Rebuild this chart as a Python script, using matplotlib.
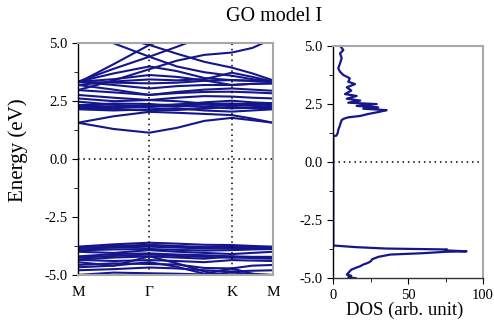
import matplotlib
matplotlib.use("Agg")
import matplotlib.pyplot as plt
from matplotlib.ticker import MultipleLocator
import numpy as np

plt.rcParams['font.family'] = ['Liberation Serif', 'DejaVu Serif']
plt.rcParams['axes.unicode_minus'] = False

# k-path M - Gamma - K - M (hexagonal BZ, relative lengths)
k_pts = [0.0, 0.433, 0.866, 1.2, 1.533, 1.866, 2.116, 2.366]
k_ticks = [0.0, 0.866, 1.866, 2.366]
k_labels = ['M', 'Γ', 'K', 'M']

# conduction bands (eV) sampled on k_pts
cond_bands = [
    [1.57, 1.30, 1.14, 1.35, 1.65, 1.78, 1.68, 1.57],
    [1.57, 1.85, 2.04, 2.00, 1.95, 1.90, 1.75, 1.57],
    [2.15, 2.10, 2.15, 2.20, 2.10, 2.05, 2.10, 2.15],
    [2.20, 2.15, 2.10, 2.12, 2.18, 2.26, 2.20, 2.18],
    [2.26, 2.20, 2.26, 2.30, 2.25, 2.19, 2.22, 2.26],
    [2.33, 2.40, 2.38, 2.30, 2.28, 2.33, 2.30, 2.26],
    [2.30, 2.28, 2.32, 2.36, 2.38, 2.40, 2.36, 2.33],
    [2.48, 2.35, 2.25, 2.35, 2.45, 2.52, 2.45, 2.41],
    [2.62, 2.50, 2.55, 2.50, 2.40, 2.33, 2.40, 2.41],
    [2.77, 2.65, 2.55, 2.65, 2.72, 2.70, 2.65, 2.62],
    [2.98, 2.88, 2.77, 2.85, 2.90, 2.91, 2.88, 2.84],
    [3.20, 3.00, 2.77, 2.90, 3.00, 3.05, 3.00, 2.95],
    [3.34, 3.20, 3.05, 3.15, 3.20, 3.20, 3.25, 3.27],
    [3.34, 3.30, 3.27, 3.30, 3.38, 3.41, 3.38, 3.34],
    [3.20, 3.35, 3.44, 3.40, 3.45, 3.73, 3.55, 3.34],
    [3.34, 3.45, 3.63, 3.55, 3.40, 3.20, 3.25, 3.27],
    [2.98, 3.40, 3.88, 4.25, 4.50, 4.60, 4.80, 5.20],
    [3.34, 3.70, 4.00, 3.80, 3.50, 3.41, 3.38, 3.34],
    [3.34, 3.90, 4.42, 4.85, 5.30, 5.60, 5.70, 5.80],
    [5.60, 5.00, 4.42, 4.00, 3.75, 3.60, 3.45, 3.34],
    [5.80, 5.30, 4.93, 4.55, 4.20, 3.95, 3.70, 3.40],
    [3.30, 4.10, 4.93, 5.40, 5.60, 5.70, 5.70, 5.70],
]

# valence bands (eV) sampled on k_pts
val_bands = [
    [-3.78, -3.68, -3.61, -3.65, -3.70, -3.71, -3.75, -3.78],
    [-3.80, -3.75, -3.70, -3.75, -3.80, -3.78, -3.80, -3.80],
    [-3.84, -3.80, -3.74, -3.78, -3.83, -3.82, -3.82, -3.84],
    [-3.88, -3.82, -3.78, -3.82, -3.86, -3.85, -3.84, -3.83],
    [-3.94, -3.90, -3.88, -3.92, -3.95, -3.93, -3.90, -3.88],
    [-4.00, -4.05, -3.93, -4.00, -4.05, -4.10, -4.05, -4.00],
    [-4.20, -4.10, -4.07, -4.12, -4.15, -4.20, -4.22, -4.22],
    [-4.25, -4.18, -4.12, -4.18, -4.22, -4.26, -4.25, -4.26],
    [-4.33, -4.25, -4.20, -4.25, -4.30, -4.20, -4.28, -4.30],
    [-4.35, -4.40, -4.36, -4.40, -4.45, -4.36, -4.38, -4.40],
    [-4.57, -4.50, -4.53, -4.55, -4.70, -4.72, -4.60, -4.57],
    [-4.67, -4.60, -4.45, -4.65, -4.95, -4.72, -4.95, -5.10],
    [-5.00, -4.90, -4.93, -4.95, -4.98, -4.90, -4.95, -5.00],
    [-4.45, -4.60, -4.20, -4.50, -4.85, -5.10, -5.20, -5.10],
    [-4.80, -4.75, -4.68, -4.72, -4.80, -4.85, -4.82, -4.80],
]

# density of states
dos_energy = [-5.0, -4.95, -4.89, -4.84, -4.77, -4.70, -4.63, -4.55, -4.48, -4.41,
              -4.34, -4.27, -4.18, -4.08, -3.98, -3.92, -3.86, -3.84, -3.80, -3.76,
              -3.72, -3.66, -3.59, 1.12, 1.13, 1.25, 1.38, 1.50, 1.59, 1.70,
              1.80, 1.86, 1.92, 1.98, 2.06, 2.16, 2.23, 2.29, 2.35, 2.41,
              2.49, 2.55, 2.64, 2.72, 2.84, 2.92, 3.07, 3.21, 3.35, 3.45,
              3.60, 3.74, 3.88, 4.03, 4.24, 4.46, 4.67, 4.81, 5.0]
dos_value = [15, 10, 12, 9, 10, 11, 12, 15, 18, 20,
             23, 25, 26, 30, 38, 60, 75, 89, 75, 76,
             35, 15, 0, 0, 2, 3, 3.3, 4, 4.5, 5,
             5.6, 7, 10, 18, 23, 31, 35.6, 20, 30, 15.6,
             29, 10, 18, 9, 15.6, 7.8, 12, 9, 14.5, 10,
             11, 6.7, 4.5, 3.3, 4.5, 5.6, 4.5, 6.7, 4.5]

line_color = '#16168c'
grey = '#a8a8a8'
dotted = (0, (1, 2.5))

fig = plt.figure(figsize=(4.94, 3.2), dpi=100)
ax1 = fig.add_axes([0.1579, 0.1409, 0.3947, 0.7238])
ax2 = fig.add_axes([0.6747, 0.1303, 0.3030, 0.7269])

# band structure
for band in cond_bands + val_bands:
    ax1.plot(k_pts, band, color=line_color, lw=1.5)
ax1.set_xlim(k_ticks[0], k_ticks[-1])
ax1.set_ylim(-5, 5)
for kt in k_ticks[1:-1]:
    ax1.axvline(kt, color='black', lw=1.1, ls=dotted)
ax1.axhline(0, color='black', lw=1.1, ls=dotted)
ax1.set_xticks(k_ticks)
ax1.set_xticklabels(k_labels)
ax1.tick_params(axis='x', length=0, pad=8, labelsize=11)
ax1.set_yticks([-5, -2.5, 0, 2.5, 5])
ax1.set_yticklabels(['-5.0', '-2.5', '0.0', '2.5', '5.0'])
ax1.yaxis.set_minor_locator(MultipleLocator(1.25))
ax1.tick_params(axis='y', which='both', direction='out', labelsize=10.5)
ax1.tick_params(axis='y', which='major', length=4)
ax1.tick_params(axis='y', which='minor', length=3)

# DOS panel
ax2.plot(dos_value, dos_energy, color=line_color, lw=1.6)
ax2.axhline(0, color='black', lw=1.1, ls=dotted)
ax2.set_xlim(0, 100)
ax2.set_ylim(-5, 5)
ax2.set_xticks([0, 50, 100])
ax2.xaxis.set_minor_locator(MultipleLocator(25))
ax2.set_yticks([-5, -2.5, 0, 2.5, 5])
ax2.set_yticklabels(['-5.0', '-2.5', '0.0', '2.5', '5.0'])
ax2.yaxis.set_minor_locator(MultipleLocator(1.25))
ax2.tick_params(axis='both', which='both', direction='out', labelsize=10.5)
ax2.tick_params(axis='both', which='major', length=4)
ax2.tick_params(axis='both', which='minor', length=3)

for ax in (ax1, ax2):
    ax.spines['left'].set_color('black')
    ax.spines['left'].set_linewidth(1.0)
    for s in ('top', 'right'):
        ax.spines[s].set_color(grey)
        ax.spines[s].set_linewidth(1.5)
ax1.spines['bottom'].set_color(grey)
ax1.spines['bottom'].set_linewidth(1.5)
ax2.spines['bottom'].set_color('#333333')
ax2.spines['bottom'].set_linewidth(1.0)

fig.text(0.555, 0.948, 'GO model I', ha='center', va='center', fontsize=14.5)
fig.text(0.036, 0.53, 'Energy (eV)', ha='center', va='center', rotation=90, fontsize=15)
fig.text(0.82, 0.03, 'DOS (arb. unit)', ha='center', va='center', fontsize=13.5)

fig.savefig('out.png', dpi=100)
